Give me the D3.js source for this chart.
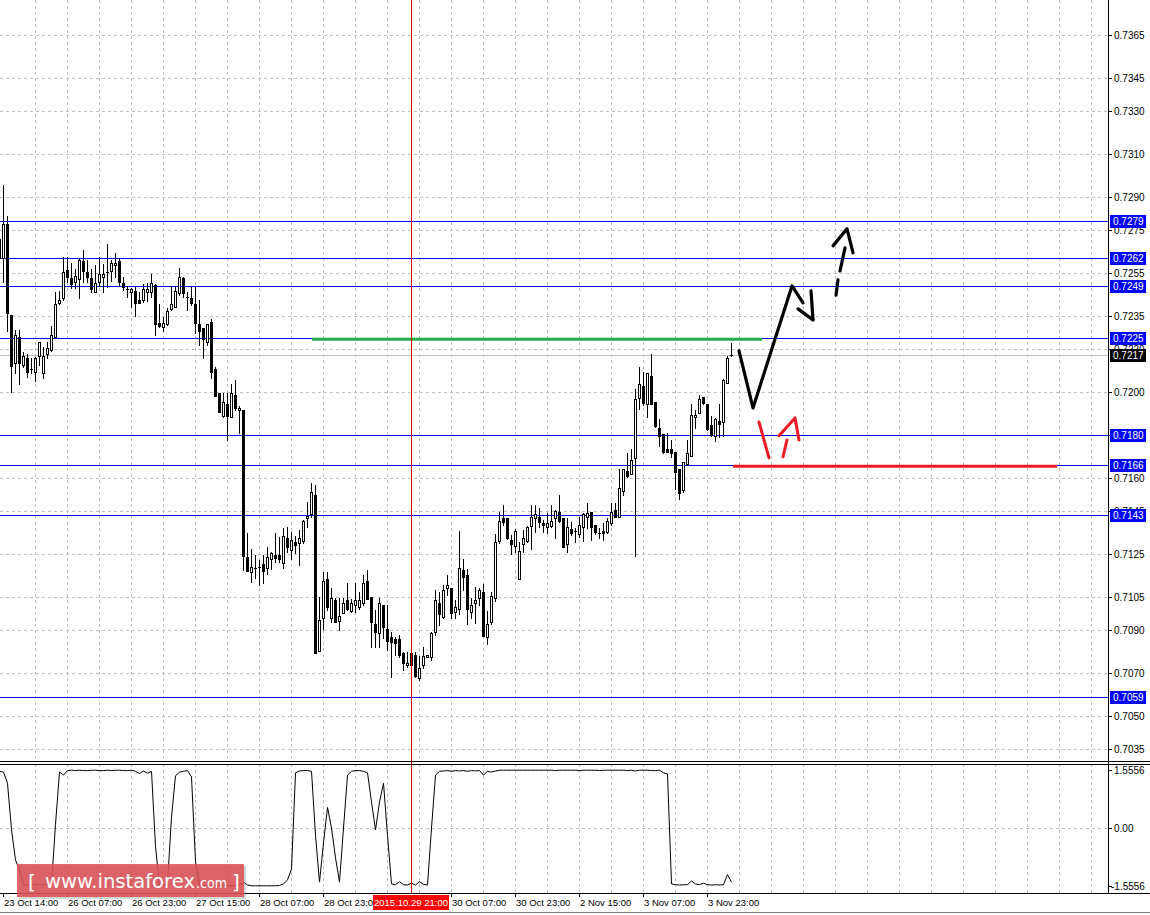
<!DOCTYPE html>
<html>
<head>
<meta charset="utf-8">
<script src="https://cdn.jsdelivr.net/npm/d3@7"></script>
<style>
  html, body { margin: 0; padding: 0; background: #fff; }
  svg { display: block; font-family: "Liberation Sans", Arial, sans-serif; }
</style>
</head>
<body>
<svg id="chart" width="1150" height="915"></svg>
<script>
// ------------------------------------------
//  Data (H1 candles)
// ------------------------------------------
const opens = [0.72619,0.72619,0.72777,0.72356,0.72134,0.72255,0.72125,0.72157,0.72106,0.72093,
  0.72166,0.72088,0.72176,0.72194,0.72255,0.72411,0.72435,0.72564,0.72527,0.72509,
  0.72522,0.72605,0.72555,0.72527,0.72463,0.72509,0.72532,0.72555,0.72559,0.72587,
  0.72605,0.72504,0.72476,0.72463,0.72467,0.72425,0.72425,0.72463,0.72463,0.72495,
  0.72319,0.72301,0.72315,0.72383,0.72393,0.72458,0.72527,0.72440,0.72435,0.72407,
  0.72315,0.72296,0.72232,0.72324,0.72106,0.71995,0.71889,0.71945,0.71885,0.71986,
  0.71917,0.71917,0.71238,0.71169,0.71187,0.71192,0.71206,0.71187,0.71228,0.71247,
  0.71247,0.71210,0.71325,0.71270,0.71307,0.71302,0.71311,0.71418,0.71436,0.71524,
  0.70803,0.70956,0.71136,0.70956,0.71039,0.70942,0.70979,0.71039,0.70988,0.71016,
  0.71007,0.71025,0.71127,0.71053,0.70928,0.70886,0.71016,0.70905,0.70868,0.70859,
  0.70859,0.70794,0.70739,0.70794,0.70785,0.70678,0.70739,0.70776,0.70776,0.70891,
  0.71025,0.70960,0.71094,0.71094,0.70984,0.70997,0.71178,0.71155,0.70984,0.71025,
  0.71048,0.71076,0.70868,0.70937,0.71048,0.71311,0.71418,0.71418,0.71316,0.71288,
  0.71136,0.71298,0.71311,0.71381,0.71418,0.71422,0.71395,0.71376,0.71381,0.71418,
  0.71446,0.71418,0.71298,0.71367,0.71357,0.71344,0.71376,0.71422,0.71446,0.71385,
  0.71348,0.71357,0.71353,0.71395,0.71455,0.71422,0.71543,0.71635,0.71622,0.71695,
  0.71972,0.72028,0.71945,0.72074,0.71954,0.71834,0.71806,0.71737,0.71737,0.71723,
  0.71645,0.71547,0.71668,0.71704,0.71885,0.71903,0.71977,0.71945,0.71848,0.71797,
  0.71866,0.71862,0.72042,0.72170]
const highs = [0.72721,0.72957,0.72813,0.72356,0.72287,0.72287,0.72185,0.72176,0.72157,0.72162,
  0.72232,0.72209,0.72232,0.72305,0.72463,0.72467,0.72624,0.72624,0.72596,0.72568,
  0.72614,0.72656,0.72610,0.72568,0.72587,0.72624,0.72592,0.72685,0.72610,0.72642,
  0.72619,0.72532,0.72490,0.72481,0.72486,0.72463,0.72500,0.72504,0.72546,0.72500,
  0.72407,0.72347,0.72388,0.72490,0.72490,0.72573,0.72532,0.72463,0.72486,0.72486,
  0.72425,0.72296,0.72315,0.72338,0.72116,0.71995,0.71995,0.71995,0.72038,0.72056,
  0.71935,0.71917,0.71348,0.71275,0.71247,0.71224,0.71247,0.71284,0.71261,0.71348,
  0.71330,0.71371,0.71376,0.71353,0.71334,0.71362,0.71409,0.71492,0.71580,0.71570,
  0.71053,0.71169,0.71169,0.71094,0.71048,0.71048,0.71048,0.71117,0.71044,0.71117,
  0.71076,0.71155,0.71178,0.71053,0.70993,0.71048,0.71016,0.71016,0.70891,0.70868,
  0.70877,0.70799,0.70799,0.70799,0.70799,0.70780,0.70822,0.70785,0.70891,0.71085,
  0.71076,0.71108,0.71155,0.71094,0.71039,0.71357,0.71228,0.71182,0.71048,0.71099,
  0.71094,0.71113,0.70988,0.71076,0.71344,0.71446,0.71478,0.71418,0.71339,0.71367,
  0.71307,0.71362,0.71381,0.71478,0.71478,0.71464,0.71409,0.71441,0.71478,0.71455,
  0.71524,0.71418,0.71418,0.71399,0.71371,0.71422,0.71441,0.71487,0.71446,0.71385,
  0.71371,0.71395,0.71418,0.71487,0.71487,0.71645,0.71645,0.71718,0.71737,0.72014,
  0.72116,0.72093,0.72088,0.72176,0.71954,0.71876,0.71806,0.71811,0.71778,0.71723,
  0.71645,0.71677,0.71778,0.71945,0.71917,0.71986,0.71977,0.71945,0.71889,0.71880,
  0.71945,0.72060,0.72166,0.72227]
const lows = [0.72601,0.72509,0.72282,0.72000,0.72088,0.72038,0.72116,0.72070,0.72088,0.72051,
  0.72125,0.72065,0.72157,0.72190,0.72255,0.72407,0.72425,0.72509,0.72481,0.72481,
  0.72435,0.72509,0.72509,0.72463,0.72463,0.72490,0.72463,0.72486,0.72513,0.72532,
  0.72490,0.72472,0.72440,0.72393,0.72351,0.72411,0.72416,0.72420,0.72440,0.72264,
  0.72301,0.72282,0.72310,0.72379,0.72393,0.72449,0.72440,0.72379,0.72402,0.72273,
  0.72218,0.72157,0.72218,0.72065,0.71981,0.71908,0.71885,0.71778,0.71885,0.71917,
  0.71811,0.71178,0.71173,0.71122,0.71141,0.71108,0.71117,0.71159,0.71182,0.71215,
  0.71215,0.71187,0.71261,0.71228,0.71256,0.71201,0.71302,0.71376,0.71422,0.70794,
  0.70803,0.70905,0.70993,0.70937,0.70937,0.70900,0.70979,0.70993,0.70984,0.70984,
  0.70997,0.71016,0.71044,0.70822,0.70822,0.70822,0.70863,0.70808,0.70683,0.70785,
  0.70776,0.70715,0.70729,0.70729,0.70683,0.70669,0.70725,0.70776,0.70762,0.70877,
  0.70923,0.70956,0.71062,0.70956,0.70956,0.70974,0.71085,0.70928,0.70956,0.70933,
  0.71016,0.70873,0.70836,0.70928,0.71034,0.71302,0.71385,0.71321,0.71252,0.71261,
  0.71136,0.71261,0.71307,0.71275,0.71353,0.71376,0.71353,0.71348,0.71376,0.71325,
  0.71399,0.71284,0.71261,0.71339,0.71307,0.71330,0.71311,0.71371,0.71316,0.71344,
  0.71325,0.71316,0.71348,0.71385,0.71422,0.71422,0.71524,0.71608,0.71622,0.71242,
  0.71922,0.71940,0.71885,0.71945,0.71839,0.71750,0.71718,0.71723,0.71700,0.71552,
  0.71506,0.71538,0.71663,0.71704,0.71834,0.71903,0.71945,0.71825,0.71797,0.71774,
  0.71792,0.71797,0.72042,0.72166]
const closes = [0.72707,0.72777,0.72365,0.72120,0.72264,0.72134,0.72166,0.72093,0.72106,0.72157,
  0.72232,0.72166,0.72204,0.72264,0.72407,0.72425,0.72555,0.72532,0.72500,0.72536,
  0.72610,0.72559,0.72532,0.72476,0.72504,0.72546,0.72546,0.72555,0.72596,0.72596,
  0.72509,0.72486,0.72476,0.72476,0.72411,0.72411,0.72476,0.72476,0.72504,0.72315,
  0.72305,0.72319,0.72374,0.72407,0.72467,0.72532,0.72458,0.72440,0.72411,0.72319,
  0.72282,0.72245,0.72315,0.72093,0.71981,0.71908,0.71954,0.71889,0.71995,0.71926,
  0.71926,0.71242,0.71173,0.71192,0.71187,0.71192,0.71173,0.71238,0.71256,0.71233,
  0.71228,0.71334,0.71284,0.71316,0.71293,0.71325,0.71404,0.71427,0.71538,0.70794,
  0.70946,0.71127,0.71007,0.71048,0.70937,0.70965,0.71025,0.70997,0.71025,0.71039,
  0.71039,0.71117,0.71044,0.70937,0.70891,0.71025,0.70914,0.70849,0.70845,0.70840,
  0.70785,0.70748,0.70748,0.70739,0.70687,0.70725,0.70780,0.70785,0.70886,0.71039,
  0.70974,0.71085,0.71108,0.70979,0.71007,0.71187,0.71145,0.70997,0.71016,0.71039,
  0.71085,0.70873,0.70928,0.71057,0.71307,0.71404,0.71399,0.71325,0.71298,0.71357,
  0.71265,0.71325,0.71376,0.71422,0.71436,0.71399,0.71385,0.71395,0.71404,0.71450,
  0.71404,0.71284,0.71376,0.71348,0.71357,0.71385,0.71436,0.71441,0.71376,0.71353,
  0.71348,0.71348,0.71404,0.71446,0.71422,0.71557,0.71645,0.71612,0.71686,0.71968,
  0.72038,0.71949,0.72088,0.71945,0.71843,0.71797,0.71723,0.71723,0.71718,0.71631,
  0.71534,0.71677,0.71718,0.71894,0.71894,0.71968,0.71949,0.71829,0.71801,0.71876,
  0.71852,0.72056,0.72157,0.72170]

// oscillator in the lower window, one value per bar
const osc = [1.52,1.50,1.20,-0.05,-0.86,-1.13,-1.52,
  -1.53,-1.52,-1.50,-1.53,-1.51,-1.53,-1.52,
  0.10,1.50,1.42,1.54,
  1.55,1.54,1.55,1.54,1.54,1.55,1.55,1.54,1.54,1.55,1.54,1.55,1.55,1.54,1.54,1.55,
  1.52,1.46,1.53,1.47,1.52,
  -0.50,-1.53,-1.52,-1.50,
  0.30,1.40,1.50,1.52,1.54,1.37,
  -0.90,-1.53,
  -1.54,-1.54,-1.55,-1.54,-1.55,-1.55,-1.54,-1.55,-1.54,-1.52,-1.45,-1.53,-1.55,-1.55,-1.55,-1.55,-1.55,-1.55,-1.55,-1.54,-1.50,
  -1.39,-1.10,
  1.48,1.53,1.54,1.54,1.52,
  -0.20,-1.45,-0.40,0.55,
  0.00,-0.80,-1.45,
  0.00,1.42,1.52,1.54,1.54,1.52,1.48,
  0.70,-0.05,0.70,1.20,
  -0.20,-1.50,
  -1.52,-1.44,-1.52,-1.53,-1.48,-1.53,-1.44,-1.51,-1.53,
  0.00,1.42,1.52,
  1.53,1.54,1.52,1.54,1.53,1.54,1.52,1.54,1.53,1.54,1.42,1.52,1.50,1.53,1.55,1.55,
  1.55,1.55,1.55,1.55,1.55,1.55,1.55,1.55,1.55,1.55,1.55,1.55,1.54,1.55,1.55,1.55,
  1.55,1.55,1.54,1.55,1.55,1.55,1.55,1.54,1.55,1.55,1.55,1.55,1.55,1.55,1.54,1.55,
  1.53,1.55,1.55,1.55,1.54,1.54,1.55,1.48,
  1.45,-1.50,
  -1.52,-1.53,-1.52,-1.52,-1.42,-1.50,-1.52,-1.48,-1.52,-1.53,-1.52,-1.53,
  -1.52,-1.25,-1.45]

// price scale labels (0.7180 sits under its level tag, so it is left out)
const priceTicks = [0.7365,0.7345,0.7330,0.7310,0.7290,0.7275,0.7255,0.7235,0.7220,0.7200,
  0.7160,0.7145,0.7125,0.7105,0.7090,0.7070,0.7050,0.7035]
const gridPrices = [0.7365,0.7345,0.7330,0.7310,0.7290,0.7275,0.7255,0.7235,0.7220,0.7200,
  0.7180,0.7160,0.7145,0.7125,0.7105,0.7090,0.7070,0.7050,0.7035]
const levels = [0.7279,0.7262,0.7249,0.7225,0.7180,0.7166,0.7143,0.7059]
const bidPrice = 0.7217
const oscTicks = [1.5556, 0, -1.5556]
const oscTickText = ["1.5556", "0.00", "-1.5556"]
// bar index of each time label; the 29 Oct 15:00 one is under the crosshair tag
const timeBars = [1, 17, 33, 49, 65, 81, 113, 129, 145, 161, 177]
const timeLabels = ["23 Oct 14:00","26 Oct 07:00","26 Oct 23:00","27 Oct 15:00","28 Oct 07:00",
  "28 Oct 23:00","30 Oct 07:00","30 Oct 23:00","2 Nov 15:00","3 Nov 07:00","3 Nov 23:00"]
const crossBar = 103
const crossText = "2015.10.29 21:00"

// hand drawn marks, [bar, price]
const greenLine = [[78.25, 0.72243], [190.75, 0.72243]]
const redLine = [[183.5, 0.71657], [264.5, 0.71657]]
const blackStrokes = [
  [[185, 0.72190], [188.5, 0.71926], [198.25, 0.72490], [201, 0.72412]],
  [[199.75, 0.72384], [203.5, 0.72333]],
  [[203, 0.72467], [203.5, 0.72333]],
  [[209.25, 0.72447], [209.75, 0.72518]],
  [[210.25, 0.72559], [211.5, 0.72666]],
  [[208.5, 0.72675], [212, 0.72754], [213.5, 0.72643]]
]
const redStrokes = [
  [[190, 0.71861], [192.5, 0.71695]],
  [[196, 0.71700], [197, 0.71778]],
  [[195, 0.71797], [199, 0.71880], [200, 0.71778]]
]

// ------------------------------------------
//  Layout
// ------------------------------------------
const W = 1150, H = 915
const axisX = 1108
const mainBottom = 761
const indTop = 764, indBottom = 893
const gridColor = "#c0c0c0"

const svg = d3.select("#chart")
const x = d3.scaleLinear().domain([0, 277]).range([-1, 1107])
const y = d3.scaleLinear().domain([0.7059, 0.7279]).range([697, 221])
const yInd = d3.scaleLinear().domain([-1.5556, 1.5556]).range([886, 770])
const px = b => Math.round(x(b))
const py = p => Math.round(y(p))

svg.append("rect").attr("width", W).attr("height", H).attr("fill", "#fff")

const defs = svg.append("defs")
defs.append("clipPath").attr("id", "clipMain")
  .append("rect").attr("x", 0).attr("y", 0).attr("width", axisX).attr("height", mainBottom)
defs.append("clipPath").attr("id", "clipInd")
  .append("rect").attr("x", 0).attr("y", indTop + 1).attr("width", axisX).attr("height", indBottom - indTop - 1)

const main = svg.append("g").attr("clip-path", "url(#clipMain)")
const ind = svg.append("g").attr("clip-path", "url(#clipInd)")

// ------------------------------------------
//  Grid
// ------------------------------------------
const gridBars = d3.range(9, 277, 8)
main.append("g").selectAll("line").data(gridBars).join("line")
  .attr("x1", d => px(d) + 0.5).attr("x2", d => px(d) + 0.5)
  .attr("y1", 0).attr("y2", mainBottom)
  .attr("stroke", gridColor).attr("stroke-dasharray", "3,3").attr("shape-rendering", "crispEdges")
main.append("g").selectAll("line").data(gridPrices).join("line")
  .attr("x1", 0).attr("x2", axisX)
  .attr("y1", d => py(d) + 0.5).attr("y2", d => py(d) + 0.5)
  .attr("stroke", gridColor).attr("stroke-dasharray", "3,3").attr("shape-rendering", "crispEdges")
ind.append("g").selectAll("line").data(gridBars).join("line")
  .attr("x1", d => px(d) + 0.5).attr("x2", d => px(d) + 0.5)
  .attr("y1", indTop).attr("y2", indBottom)
  .attr("stroke", gridColor).attr("stroke-dasharray", "3,3").attr("shape-rendering", "crispEdges")
ind.append("line")
  .attr("x1", 0).attr("x2", axisX)
  .attr("y1", Math.round(yInd(0)) + 0.5).attr("y2", Math.round(yInd(0)) + 0.5)
  .attr("stroke", gridColor).attr("stroke-dasharray", "3,3").attr("shape-rendering", "crispEdges")

// levels and bid line
main.append("g").selectAll("line").data(levels).join("line")
  .attr("x1", 0).attr("x2", axisX)
  .attr("y1", d => py(d) + 0.5).attr("y2", d => py(d) + 0.5)
  .attr("stroke", "#0000ff").attr("shape-rendering", "crispEdges")
main.append("line")
  .attr("x1", 0).attr("x2", axisX)
  .attr("y1", py(bidPrice) + 0.5).attr("y2", py(bidPrice) + 0.5)
  .attr("stroke", gridColor).attr("shape-rendering", "crispEdges")

// ------------------------------------------
//  Candles
// ------------------------------------------
const bars = opens.map((o, i) => ({ i, o, h: highs[i], l: lows[i], c: closes[i] }))
const cg = main.append("g").attr("shape-rendering", "crispEdges")
bars.forEach(d => {
  const cx = px(d.i)
  const top = py(Math.max(d.o, d.c)), bot = py(Math.min(d.o, d.c))
  const hi = py(d.h), lo = py(d.l)
  cg.append("rect").attr("x", cx).attr("y", hi).attr("width", 1).attr("height", lo - hi + 1).attr("fill", "#000")
  cg.append("rect").attr("x", cx - 1).attr("y", top).attr("width", 3).attr("height", bot - top + 1).attr("fill", "#000")
  if (d.c > d.o && bot - top > 1) {
    cg.append("rect").attr("x", cx).attr("y", top + 1).attr("width", 1).attr("height", bot - top - 1).attr("fill", "#fff")
  }
})

// ------------------------------------------
//  Drawn lines and arrows
// ------------------------------------------
const line = d3.line().x(d => x(d[0])).y(d => y(d[1]))
main.append("path").attr("d", line(greenLine)).attr("stroke", "#22b14c").attr("stroke-width", 3).attr("fill", "none")
main.append("path").attr("d", line(redLine)).attr("stroke", "#ed1c24").attr("stroke-width", 3).attr("fill", "none")
main.append("g").selectAll("path").data(blackStrokes).join("path")
  .attr("d", line).attr("stroke", "#000").attr("stroke-width", 3.2)
  .attr("fill", "none").attr("stroke-linecap", "round").attr("stroke-linejoin", "round")
main.append("g").selectAll("path").data(redStrokes).join("path")
  .attr("d", line).attr("stroke", "#ed1c24").attr("stroke-width", 3)
  .attr("fill", "none").attr("stroke-linecap", "round").attr("stroke-linejoin", "round")

// ------------------------------------------
//  Oscillator
// ------------------------------------------
const oscLine = d3.line().x((d, i) => x(i) + 0.5).y(d => yInd(d))
ind.append("path").attr("d", oscLine(osc)).attr("stroke", "#000").attr("stroke-width", 1).attr("fill", "none")

// crosshair
svg.append("line")
  .attr("x1", px(crossBar) + 0.5).attr("x2", px(crossBar) + 0.5)
  .attr("y1", 0).attr("y2", indBottom)
  .attr("stroke", "#d40000").attr("shape-rendering", "crispEdges")

// ------------------------------------------
//  Frame and axes
// ------------------------------------------
const frame = svg.append("g").attr("stroke", "#000").attr("shape-rendering", "crispEdges")
frame.append("line").attr("x1", 0).attr("x2", W).attr("y1", mainBottom + 0.5).attr("y2", mainBottom + 0.5)
frame.append("line").attr("x1", 0).attr("x2", W).attr("y1", indTop + 0.5).attr("y2", indTop + 0.5)
frame.append("line").attr("x1", 0).attr("x2", W).attr("y1", indBottom + 0.5).attr("y2", indBottom + 0.5)
frame.append("line").attr("x1", 0).attr("x2", W).attr("y1", 912.5).attr("y2", 912.5).attr("stroke", "#808080")
frame.append("line").attr("x1", axisX + 0.5).attr("x2", axisX + 0.5).attr("y1", 0).attr("y2", indBottom)

// price axis
const pa = svg.append("g")
pa.selectAll("line").data(gridPrices).join("line")
  .attr("x1", axisX).attr("x2", axisX + 4)
  .attr("y1", d => py(d) + 0.5).attr("y2", d => py(d) + 0.5)
  .attr("stroke", "#000").attr("shape-rendering", "crispEdges")
pa.selectAll("text").data(priceTicks).join("text")
  .attr("x", 1114).attr("y", d => py(d)).attr("dy", "0.35em")
  .attr("font-size", 10).attr("fill", "#000")
  .text(d => d.toFixed(4))

// level tags
const tags = svg.append("g")
const tagData = levels.map(v => ({ v, fill: "#0000ff" })).concat([{ v: bidPrice, fill: "#000" }])
tags.selectAll("rect").data(tagData).join("rect")
  .attr("x", 1110).attr("y", d => py(d.v) - 6).attr("width", 36).attr("height", 13)
  .attr("fill", d => d.fill)
tags.selectAll("text").data(tagData).join("text")
  .attr("x", 1113).attr("y", d => py(d.v)).attr("dy", "0.38em")
  .attr("font-size", 10).attr("fill", "#fff")
  .text(d => d.v.toFixed(4))

// oscillator axis
const oa = svg.append("g")
oa.selectAll("text").data(oscTicks).join("text")
  .attr("x", (d, i) => i === 2 ? 1111 : 1114).attr("y", d => Math.round(yInd(d))).attr("dy", "0.35em")
  .attr("font-size", 10).attr("fill", "#000")
  .text((d, i) => oscTickText[i])
oa.selectAll("line").data(oscTicks).join("line")
  .attr("x1", axisX).attr("x2", axisX + 4)
  .attr("y1", d => Math.round(yInd(d)) + 0.5).attr("y2", d => Math.round(yInd(d)) + 0.5)
  .attr("stroke", "#000").attr("shape-rendering", "crispEdges")

// time axis
const ta = svg.append("g")
ta.selectAll("line").data(timeBars).join("line")
  .attr("x1", d => px(d) + 0.5).attr("x2", d => px(d) + 0.5)
  .attr("y1", indBottom).attr("y2", indBottom + 4)
  .attr("stroke", "#000").attr("shape-rendering", "crispEdges")
ta.selectAll("text").data(timeLabels).join("text")
  .attr("x", (d, i) => px(timeBars[i]) + 1).attr("y", 906)
  .attr("font-size", 9.5).attr("fill", "#000")
  .text(d => d)

// crosshair date tag
const cw = 76
svg.append("rect").attr("x", px(crossBar) - cw / 2).attr("y", 895).attr("width", cw).attr("height", 15).attr("fill", "#ff0000")
svg.append("text").attr("x", px(crossBar)).attr("y", 906).attr("text-anchor", "middle")
  .attr("font-size", 9.5).attr("fill", "#fff").text(crossText)

// ------------------------------------------
//  Watermark
// ------------------------------------------
const wm = svg.append("g")
wm.append("rect").attr("x", 19).attr("y", 866).attr("width", 227).attr("height", 33).attr("fill", "#888").attr("opacity", 0.35)
wm.append("rect").attr("x", 17).attr("y", 864).attr("width", 227).attr("height", 33).attr("fill", "#dc4f55").attr("opacity", 0.85)
const wt = wm.append("g").attr("fill", "#fff").attr("font-family", "'DejaVu Sans', Verdana, sans-serif")
wt.append("text").attr("x", 28).attr("y", 889).attr("font-size", 20).text("[")
wt.append("text").attr("x", 45).attr("y", 888).attr("font-size", 19).attr("textLength", 150).attr("lengthAdjust", "spacingAndGlyphs").text("www.instaforex")
wt.append("text").attr("x", 196).attr("y", 888).attr("font-size", 14).attr("textLength", 31).attr("lengthAdjust", "spacingAndGlyphs").text(".com")
wt.append("text").attr("x", 232).attr("y", 889).attr("font-size", 20).text("]")
</script>
</body>
</html>
